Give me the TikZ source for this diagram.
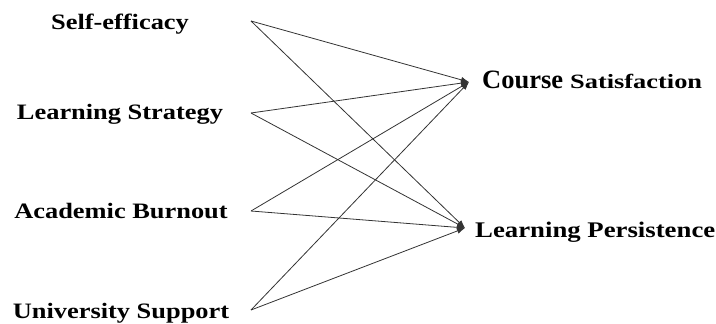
\documentclass[tikz,border=0pt]{standalone}
\usepackage{fontspec}
\setmainfont{Liberation Serif}
\newfontfamily\widefont{Liberation Serif}[FakeStretch=1.2]
\newfontfamily\wideCfont{Liberation Serif}[FakeStretch=1.3]
\usetikzlibrary{arrows.meta}
\begin{document}
\begin{tikzpicture}[x=1pt,y=-1pt,
  lbl/.style={anchor=base,inner sep=0pt,font=\widefont\bfseries\fontsize{22}{26}\selectfont},
  link/.style={draw=black!80,line width=0.8pt,-{Latex[length=8pt,width=6pt]}}]
\useasboundingbox (0,0) rectangle (716,324);
\node[lbl] (se) at (120,29) {Self-efficacy};
\node[lbl] (ls) at (120,119) {Learning Strategy};
\node[lbl] (ab) at (121,218) {Academic Burnout};
\node[lbl] (us) at (121,318) {University Support};
\coordinate (seo) at (251,21);
\coordinate (lso) at (251,113);
\coordinate (abo) at (251,211);
\coordinate (uso) at (251,310);
\node[anchor=base west,inner sep=0pt,font=\bfseries\fontsize{26.5}{31}\selectfont] (cs1) at (482,88) {Course};
\node[anchor=base west,inner sep=0pt,font=\wideCfont\bfseries\fontsize{20.3}{24}\selectfont] (cs2) at (570,88) {Satisfaction};
\node[anchor=base west,inner sep=0pt,font=\widefont\bfseries\fontsize{22.3}{26}\selectfont] (lp) at (475,237) {Learning Persistence};
\coordinate (cst) at (469,82);
\coordinate (lpt) at (465,228);
\foreach \s in {seo,lso,abo,uso}{
  \draw[link] (\s) -- (cst);
  \draw[link] (\s) -- (lpt);
}
\end{tikzpicture}
\end{document}
